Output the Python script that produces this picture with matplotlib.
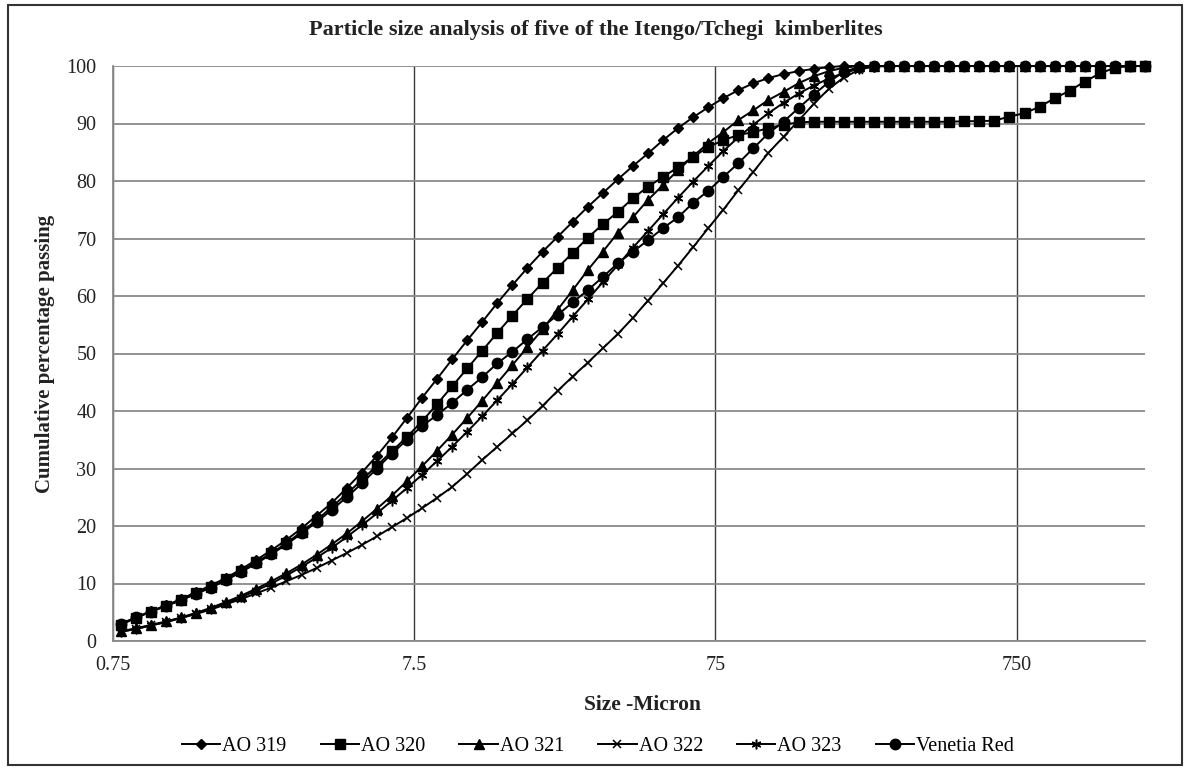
import matplotlib.pyplot as plt
from matplotlib.ticker import FixedLocator, NullLocator
from matplotlib.patches import Rectangle

# Size classes (micron) of the laser sizer, 0.796 - 2000
sizes = [0.796, 0.893, 1.002, 1.125, 1.262, 1.416, 1.589, 1.783, 2.000, 2.244,
         2.518, 2.825, 3.170, 3.557, 3.991, 4.477, 5.024, 5.637, 6.325, 7.096,
         7.962, 8.934, 10.024, 11.247, 12.619, 14.159, 15.887, 17.825, 20.0, 22.44,
         25.179, 28.251, 31.698, 35.566, 39.905, 44.774, 50.238, 56.368, 63.246, 70.963,
         79.621, 89.337, 100.237, 112.468, 126.191, 141.589, 158.866, 178.25, 200.0, 224.404,
         251.785, 282.508, 316.979, 355.656, 399.052, 447.744, 502.377, 563.677, 632.456, 709.627,
         796.214, 893.367, 1002.374, 1124.683, 1261.915, 1415.892, 1588.656, 1782.502, 2000.0]

# Cumulative % passing
ao319 = [2.9, 4.1, 5.2, 6.2, 7.3, 8.5, 9.7, 11.0, 12.5, 14.1,
         15.8, 17.6, 19.6, 21.8, 24.0, 26.6, 29.3, 32.2, 35.4, 38.8,
         42.3, 45.6, 49.0, 52.3, 55.5, 58.8, 61.9, 64.9, 67.7, 70.3,
         72.9, 75.5, 77.9, 80.3, 82.6, 84.8, 87.1, 89.2, 91.1, 92.8,
         94.4, 95.8, 97.0, 97.9, 98.6, 99.1, 99.5, 99.8, 100, 100,
         100, 100, 100, 100, 100, 100, 100, 100, 100, 100,
         100, 100, 100, 100, 100, 100, 100, 100, 100]
ao320 = [2.8, 4.0, 5.1, 6.1, 7.1, 8.3, 9.4, 10.7, 12.2, 13.7,
         15.3, 17.0, 19.0, 21.0, 23.3, 25.6, 28.0, 30.5, 33.0, 35.5,
         38.2, 41.2, 44.3, 47.4, 50.5, 53.6, 56.6, 59.5, 62.3, 64.9,
         67.5, 70.1, 72.5, 74.6, 77.0, 79.0, 80.7, 82.4, 84.2, 85.9,
         87.1, 88.0, 88.5, 89.2, 89.8, 90.2, 90.3, 90.3, 90.3, 90.3,
         90.3, 90.3, 90.3, 90.3, 90.3, 90.3, 90.4, 90.4, 90.5, 91.2,
         91.8, 92.9, 94.4, 95.7, 97.3, 98.7, 99.7, 100, 100]
ao321 = [1.7, 2.2, 2.8, 3.4, 4.1, 4.9, 5.8, 6.8, 7.9, 9.1,
         10.4, 11.8, 13.3, 15.0, 16.8, 18.7, 20.8, 23.0, 25.3, 27.8,
         30.4, 33.1, 35.9, 38.8, 41.8, 44.9, 48.0, 51.1, 54.2, 57.6,
         61.0, 64.5, 67.7, 71.0, 73.7, 76.7, 79.3, 81.9, 84.3, 86.6,
         88.5, 90.6, 92.3, 94.1, 95.5, 97.0, 98.2, 99.1, 99.7, 100,
         100, 100, 100, 100, 100, 100, 100, 100, 100, 100,
         100, 100, 100, 100, 100, 100, 100, 100, 100]
ao322 = [1.6, 2.1, 2.7, 3.3, 4.0, 4.7, 5.5, 6.4, 7.3, 8.3,
         9.3, 10.4, 11.5, 12.7, 14.0, 15.3, 16.7, 18.2, 19.8, 21.4,
         23.1, 24.9, 26.8, 29.1, 31.5, 33.8, 36.1, 38.4, 40.9, 43.5,
         46.0, 48.4, 50.9, 53.4, 56.2, 59.2, 62.2, 65.3, 68.5, 71.8,
         75.0, 78.4, 81.6, 84.9, 87.7, 90.5, 93.4, 96.0, 98.0, 99.3,
         100, 100, 100, 100, 100, 100, 100, 100, 100, 100,
         100, 100, 100, 100, 100, 100, 100, 100, 100]
ao323 = [1.6, 2.1, 2.7, 3.3, 4.0, 4.8, 5.6, 6.6, 7.6, 8.8,
         10.0, 11.4, 12.9, 14.5, 16.2, 18.1, 20.1, 22.2, 24.4, 26.6,
         28.9, 31.3, 33.8, 36.4, 39.1, 41.9, 44.7, 47.6, 50.5, 53.4,
         56.4, 59.4, 62.4, 65.4, 68.4, 71.3, 74.2, 77.1, 79.9, 82.6,
         85.2, 87.6, 89.8, 91.8, 93.6, 95.2, 96.6, 97.8, 98.8, 99.5,
         99.9, 100, 100, 100, 100, 100, 100, 100, 100, 100,
         100, 100, 100, 100, 100, 100, 100, 100, 100]
venetia = [3.0, 4.1, 5.1, 6.1, 7.1, 8.2, 9.3, 10.6, 12.0, 13.5,
           15.1, 16.8, 18.7, 20.7, 22.8, 25.0, 27.4, 30.0, 32.6, 35.0,
           37.4, 39.3, 41.4, 43.7, 45.9, 48.3, 50.3, 52.5, 54.6, 56.7,
           58.9, 61.0, 63.3, 65.7, 67.7, 69.7, 71.8, 73.7, 76.2, 78.3,
           80.7, 83.1, 85.7, 88.3, 90.3, 92.7, 95.0, 97.2, 99.0, 99.8,
           100, 100, 100, 100, 100, 100, 100, 100, 100, 100,
           100, 100, 100, 100, 100, 100, 100, 100, 100]

xticks = [0.75, 7.5, 75, 750]
xtick_labels = ['0.75', '7.5', '75', '750']

plt.rcParams['font.family'] = ['Liberation Serif', 'DejaVu Serif']

W, H = 1188, 772
fig = plt.figure(figsize=(W / 100, H / 100), dpi=100)
ax = fig.add_axes([113 / W, 1 - 641 / H, (1145 - 113) / W, (641 - 66) / H])

series = [
    ('AO 319', ao319, dict(marker='D', ms=5.2)),
    ('AO 320', ao320, dict(marker='s', ms=7.5)),
    ('AO 321', ao321, dict(marker='^', ms=7)),
    ('AO 322', ao322, dict(marker='x', ms=6, mew=1.1)),
    ('AO 323', ao323, dict(marker=(6, 2, 0), ms=7, mew=1.1)),
    ('Venetia Red', venetia, dict(marker='o', ms=7.5)),
]
for name, vals, style in series:
    ax.plot(sizes, vals, color='black', lw=1.4, mfc='black', mec='black',
            label=name, clip_on=False, zorder=3, **style)

ax.set_xscale('log')
ax.set_xlim(0.75, 2000)
ax.set_ylim(0, 100)
ax.xaxis.set_major_locator(FixedLocator(xticks))
ax.xaxis.set_minor_locator(NullLocator())
ax.set_xticklabels(xtick_labels)
ax.set_yticks(range(0, 101, 10))

ax.yaxis.grid(True, color='#8a8a8a', lw=1.3)
ax.xaxis.grid(True, color='#3c3c3c', lw=1.0)
ax.set_axisbelow(True)
for s in ['top', 'right']:
    ax.spines[s].set_visible(False)
for s in ['left', 'bottom']:
    ax.spines[s].set_color('#8a8a8a')
    ax.spines[s].set_linewidth(1.3)
ax.tick_params(axis='both', length=0, labelsize=14.5, colors='#222222')
ax.tick_params(axis='x', pad=11)
ax.tick_params(axis='y', pad=12)

fig.text(596 / W, 1 - 30 / H, 'Particle size analysis of five of the Itengo/Tchegi  kimberlites',
         ha='center', va='center', fontsize=16, fontweight='bold', color='#222222')
fig.text(45 / W, 1 - 354 / H, 'Cumulative percentage passing', rotation=90,
         ha='center', va='center', fontsize=15, fontweight='bold', color='#222222')
fig.text(643 / W, 1 - 705 / H, 'Size -Micron', ha='center', va='center',
         fontsize=15.5, fontweight='bold', color='#222222')

fig.legend(loc='center', bbox_to_anchor=(598 / W, 1 - 746 / H), ncol=6, frameon=False,
           fontsize=14.5, handlelength=1.9, handletextpad=0.1, columnspacing=1.7)

fig.patches.append(Rectangle((8 / W, 1 - 765 / H), (1182 - 8) / W, (765 - 5) / H,
                             transform=fig.transFigure, fill=False,
                             edgecolor='#333333', lw=1.5))

plt.savefig('out.png', dpi=100)
